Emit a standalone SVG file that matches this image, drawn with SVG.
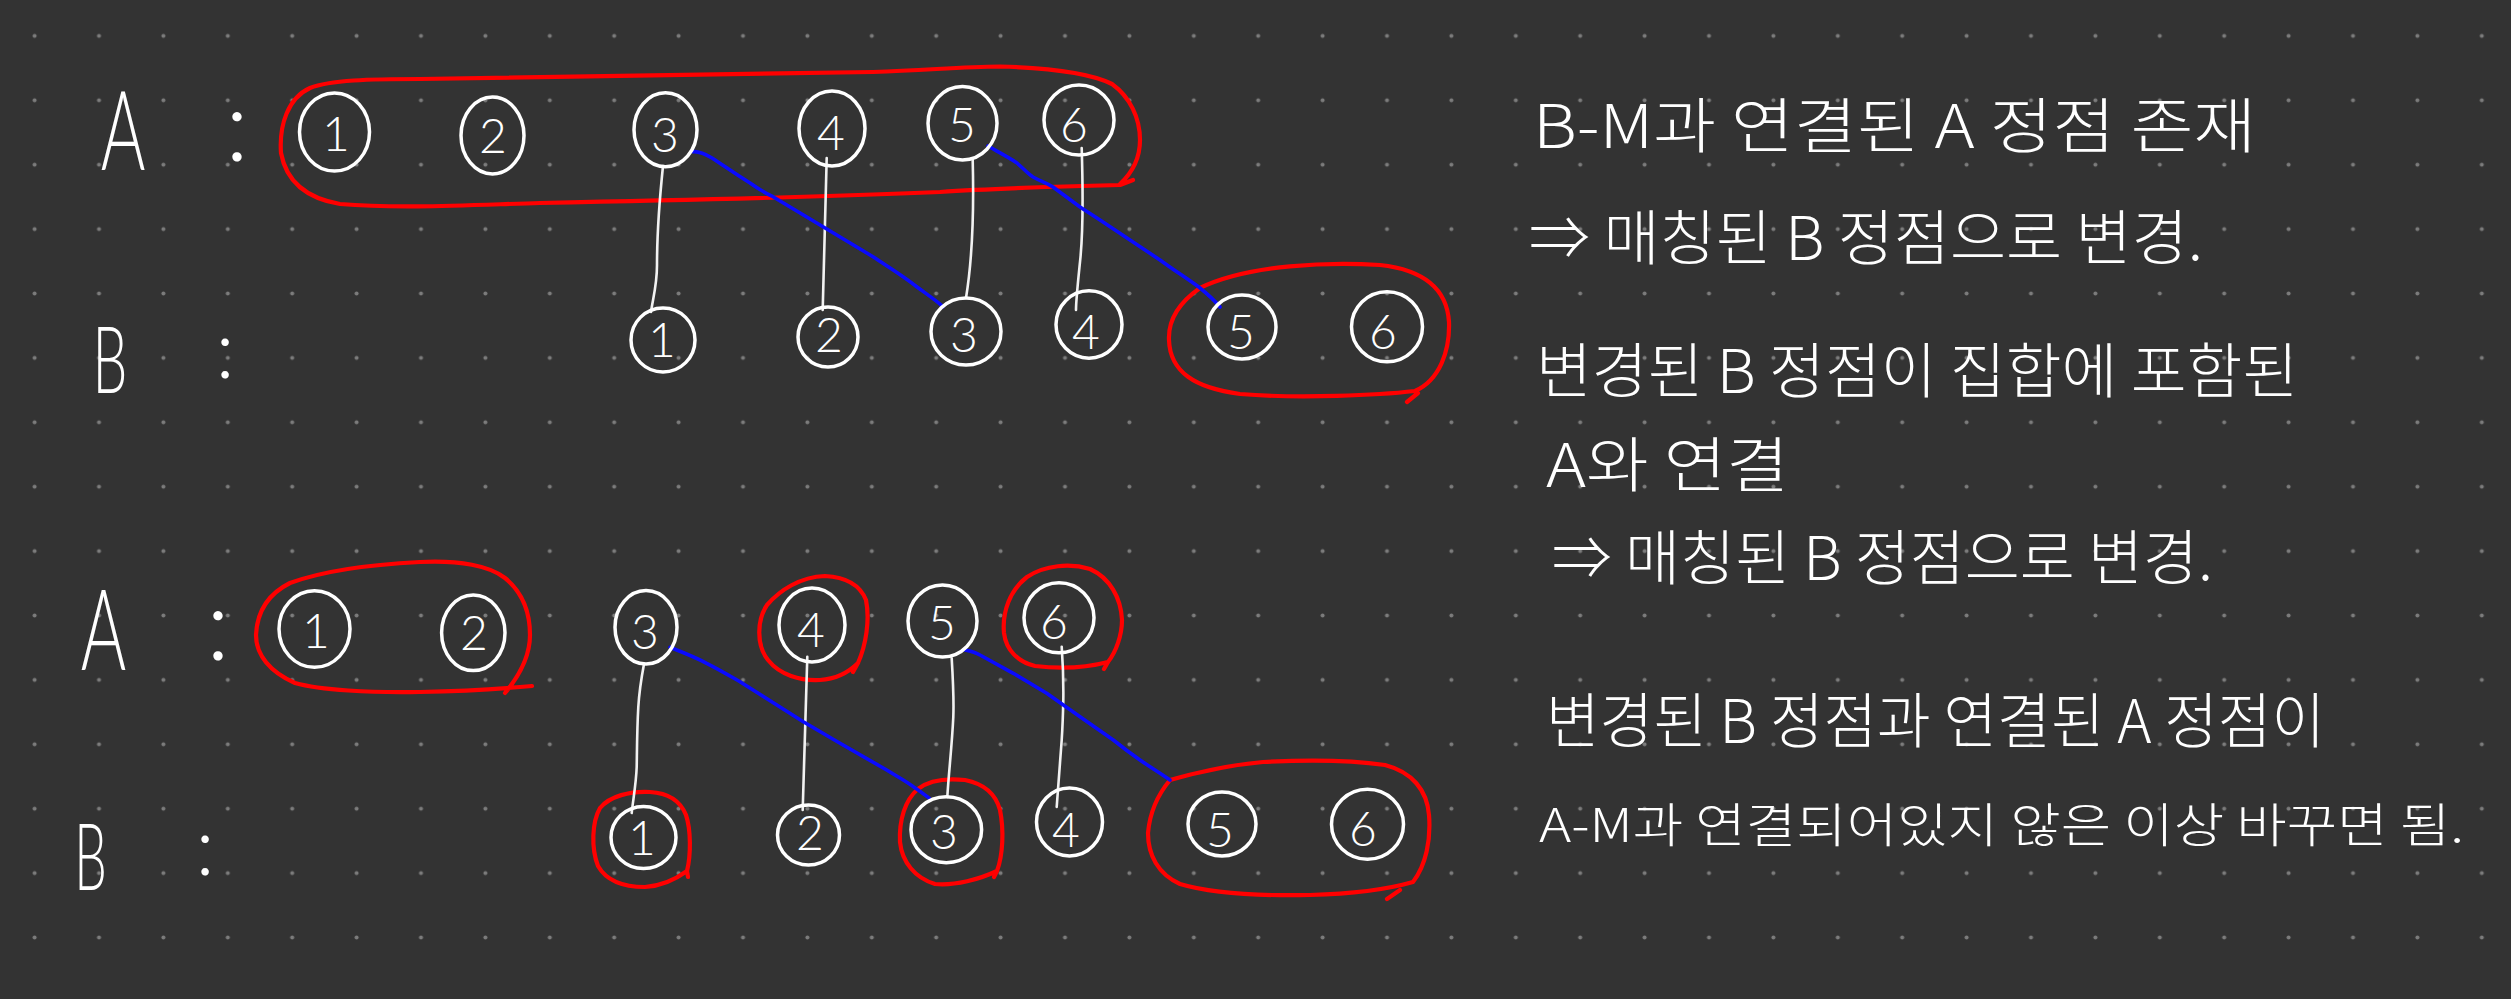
<svg xmlns="http://www.w3.org/2000/svg" width="2511" height="999" viewBox="0 0 2511 999">
<defs>
<pattern id="dotgrid" patternUnits="userSpaceOnUse" x="2.4" y="3.7" width="64.4" height="64.4">
<circle cx="32.2" cy="32.2" r="2" fill="#7c7c7c"/>
</pattern>
<style>
.bg{fill:#333333}
.nc{fill:none;stroke:#ffffff;stroke-width:3.5}
.dg{font-family:Lato,"Liberation Sans",sans-serif;font-weight:300;font-size:48px;fill:#ffffff;text-anchor:middle}
.lb{font-family:Lato,"Liberation Sans",sans-serif;font-weight:300;fill:#ffffff;text-anchor:middle}
.wl{fill:none;stroke:#f2f2f2;stroke-width:2.6;stroke-linecap:round;stroke-linejoin:round}
.bl{fill:none;stroke:#0a0aff;stroke-width:3.6;stroke-linecap:round;stroke-linejoin:round}
.rd{fill:none;stroke:#ff0000;stroke-width:4.2;stroke-linecap:round;stroke-linejoin:round}
.kt{font-family:"Noto Sans CJK KR","Noto Sans",sans-serif;font-weight:300;font-size:60px;fill:#ffffff}
.kt7{font-family:"Noto Sans CJK KR","Noto Sans",sans-serif;font-weight:300;font-size:47px;fill:#ffffff}
</style>
</defs>
<rect class="bg" x="0" y="0" width="2511" height="999"/>
<rect x="0" y="0" width="2511" height="999" fill="url(#dotgrid)"/>

<g id="labels">
<text class="lb" font-size="110" transform="translate(123 170) scale(0.62 1)">A</text>
<text class="lb" font-size="100" x="237" y="161">:</text>
<text class="lb" font-size="92" transform="translate(110 393) scale(0.6 1)">B</text>
<text class="lb" font-size="80" x="225" y="378">:</text>
<text class="lb" font-size="112" transform="translate(103.5 670) scale(0.62 1)">A</text>
<text class="lb" font-size="100" x="218" y="660">:</text>
<text class="lb" font-size="92" transform="translate(90.5 890) scale(0.56 1)">B</text>
<text class="lb" font-size="80" x="205" y="875">:</text>
</g>

<g id="groups">
<path class="rd" d="M1133,180 L1120,185 C1080,186 1000,188 940,192 C870,195 700,200 540,203 C470,205 400,209 340,204 C305,198 286,180 281,153 C279,125 288,98 310,88 C330,80 370,79 420,79 C560,78 700,75 873,72 C930,70 960,67 1000,66.5 C1050,68 1090,73 1112,84 C1130,97 1140,118 1140,140 C1140,158 1133,172 1120,184"/>
<path class="rd" d="M1200,288 C1180,302 1168,320 1169,340 C1170,372 1195,388 1240,394 C1300,399 1380,395 1415,391 C1440,380 1450,350 1449,322 C1447,290 1425,270 1380,265 C1330,262 1250,264 1200,288 M1407,402 L1418,393"/>
<path class="rd" d="M532,686 C510,688 470,691 420,692 C370,693 320,690 295,683 C270,672 256,655 256,635 C257,612 268,594 290,583 C320,572 360,565 420,562 C460,560 490,566 505,578 C522,592 530,612 530,635 C530,656 520,675 505,693"/>
<path class="rd" d="M853,672 L858,663 C866,645 870,620 866,600 C860,585 845,577 825,576 C800,577 780,590 767,605 C757,620 756,645 768,660 C780,675 800,681 820,680 C835,679 848,673 858,663"/>
<path class="rd" d="M1104,669 L1108,662 C1116,652 1122,635 1122,620 C1121,598 1110,578 1090,569 C1070,563 1045,565 1027,577 C1010,590 1002,612 1004,633 C1006,650 1018,662 1035,666 C1060,669 1085,668 1108,662"/>
<path class="rd" d="M688,877 L687,871 C691,855 691,830 686,815 C680,800 668,793 650,792 C630,791 610,796 600,808 C592,822 591,848 598,866 C606,880 622,887 645,887 C662,886 676,879 687,871"/>
<path class="rd" d="M994,877 L997,871 C1003,855 1004,830 1000,810 C996,795 985,784 965,780 C945,778 928,781 918,789 C905,800 899,820 900,842 C902,862 915,878 935,884 C955,886 980,879 997,871"/>
<path class="rd" d="M1170,780 C1160,792 1150,810 1148,833 C1148,855 1158,874 1180,884 C1210,893 1260,896 1310,895 C1350,894 1385,890 1413,882 C1426,865 1431,840 1429,815 C1427,790 1412,772 1385,765 C1350,760 1300,760 1263,762 C1230,765 1195,773 1170,780 M1387,899 L1400,890"/>
</g>

<g id="connectors">
<path class="wl" d="M663,166 C660,195 657,230 657,265 C657,285 653,298 651,312"/>
<path class="wl" d="M826.7,158 L822.7,310"/>
<path class="wl" d="M972.7,160 C974,210 973,255 966,298"/>
<path class="wl" d="M1081.7,148 C1083,190 1083,230 1080.5,257 C1078,282 1076,300 1076,310"/>
<path class="bl" d="M693,151.7 C700,151 707,155 712,158 C730,170 740,177 750,183 C760,190 765,193 773,196.7 L823,226.7 L873,256.7 C890,268 905,277 917,287 C928,295 937,301 943,306.7"/>
<path class="bl" d="M988,146 C998,152 1008,157 1017,163 C1025,170 1028,174 1033,177 C1042,182 1047,183 1053,187 L1080,207 L1100,220 L1160,260 C1175,271 1188,279 1200,288 C1210,296 1215,301 1220,307"/>
<path class="wl" d="M644,664 C641,680 639,695 638.3,707 C637,730 637,750 636.7,767 C636,785 633,800 631.7,813"/>
<path class="wl" d="M807.3,656.7 L802.7,810"/>
<path class="wl" d="M951.7,658.3 C953,680 954,700 953.3,717 C952,745 949,770 947.3,797"/>
<path class="wl" d="M1061.7,646.7 C1063,665 1063.5,685 1063.3,700 C1063,715 1062.5,728 1061.7,740 C1060,765 1058,788 1056.7,807"/>
<path class="bl" d="M670,647.3 C682,652 695,657 706.7,663.3 C720,670 730,676 740,681.7 L803.3,721.7 L840,743.3 L886.7,770 C898,777 906,781 913.3,786.7 C920,791 925,795 929.3,798.3"/>
<path class="bl" d="M965,650 C970,651 975,652 980,655 L1013.3,673.3 L1046.7,693.3 L1080,716.7 L1113.3,740 C1122,747 1130,753 1140,760 C1150,767 1160,773 1170,780"/>
</g>

<g id="top-A1"><ellipse class="nc" cx="334.5" cy="132" rx="35" ry="39"/><text class="dg" x="336" y="151">1</text></g>
<g id="top-A2"><ellipse class="nc" cx="492.5" cy="135.5" rx="31.5" ry="38.5"/><text class="dg" x="493" y="153">2</text></g>
<g id="top-A3"><ellipse class="nc" cx="665.5" cy="129.7" rx="31.5" ry="37"/><text class="dg" x="665" y="152">3</text></g>
<g id="top-A4"><ellipse class="nc" cx="832" cy="128.5" rx="33" ry="37.5"/><text class="dg" x="831" y="150">4</text></g>
<g id="top-A5"><ellipse class="nc" cx="962.5" cy="123.3" rx="34.5" ry="36.7"/><text class="dg" x="962" y="142">5</text></g>
<g id="top-A6"><ellipse class="nc" cx="1079" cy="120" rx="35" ry="35"/><text class="dg" x="1074" y="142">6</text></g>
<g id="top-B1"><ellipse class="nc" cx="663" cy="340" rx="32" ry="32"/><text class="dg" x="662" y="357">1</text></g>
<g id="top-B2"><ellipse class="nc" cx="828" cy="337" rx="30" ry="30"/><text class="dg" x="829" y="352">2</text></g>
<g id="top-B3"><ellipse class="nc" cx="966" cy="331.5" rx="35" ry="33.5"/><text class="dg" x="964" y="352">3</text></g>
<g id="top-B4"><ellipse class="nc" cx="1089" cy="324.5" rx="33" ry="33.7"/><text class="dg" x="1086" y="349">4</text></g>
<g id="top-B5"><ellipse class="nc" cx="1242" cy="327" rx="34" ry="32"/><text class="dg" x="1241" y="349">5</text></g>
<g id="top-B6"><ellipse class="nc" cx="1387" cy="326.7" rx="35.5" ry="35"/><text class="dg" x="1383" y="349">6</text></g>

<g id="bottom-A1"><ellipse class="nc" cx="314.5" cy="629" rx="35.5" ry="38.3"/><text class="dg" x="316" y="648">1</text></g>
<g id="bottom-A2"><ellipse class="nc" cx="473.3" cy="632.8" rx="31.7" ry="37.8"/><text class="dg" x="474" y="650">2</text></g>
<g id="bottom-A3"><ellipse class="nc" cx="646" cy="627.3" rx="31" ry="36.7"/><text class="dg" x="645" y="649">3</text></g>
<g id="bottom-A4"><ellipse class="nc" cx="812" cy="625" rx="33" ry="37"/><text class="dg" x="811" y="647">4</text></g>
<g id="bottom-A5"><ellipse class="nc" cx="942.5" cy="621" rx="34.5" ry="36"/><text class="dg" x="942" y="640">5</text></g>
<g id="bottom-A6"><ellipse class="nc" cx="1059" cy="617.7" rx="35" ry="35"/><text class="dg" x="1054" y="639">6</text></g>
<g id="bottom-B1"><ellipse class="nc" cx="643.5" cy="837.5" rx="32.5" ry="31"/><text class="dg" x="642" y="855">1</text></g>
<g id="bottom-B2"><ellipse class="nc" cx="808.5" cy="835" rx="31" ry="30"/><text class="dg" x="810" y="850">2</text></g>
<g id="bottom-B3"><ellipse class="nc" cx="946.3" cy="829.7" rx="35.3" ry="33" /><text class="dg" x="944" y="849">3</text></g>
<g id="bottom-B4"><ellipse class="nc" cx="1069.5" cy="822" rx="33" ry="34"/><text class="dg" x="1066" y="847">4</text></g>
<g id="bottom-B5"><ellipse class="nc" cx="1222" cy="824" rx="34" ry="32"/><text class="dg" x="1220" y="847">5</text></g>
<g id="bottom-B6"><ellipse class="nc" cx="1367.5" cy="824.3" rx="36" ry="35"/><text class="dg" x="1363" y="846">6</text></g>

<g id="notes">
<text class="kt" x="1533" y="148" textLength="723" lengthAdjust="spacingAndGlyphs">B-M과 연결된 A 정점 존재</text>
<text class="kt" x="1529" y="260" textLength="674" lengthAdjust="spacingAndGlyphs">⇒ 매칭된 B 정점으로 변경.</text>
<text class="kt" x="1536" y="393" textLength="762" lengthAdjust="spacingAndGlyphs">변경된 B 정점이 집합에 포함된</text>
<text class="kt" x="1546" y="487" textLength="243" lengthAdjust="spacingAndGlyphs">A와 연결</text>
<text class="kt" x="1552" y="580" textLength="661" lengthAdjust="spacingAndGlyphs">⇒ 매칭된 B 정점으로 변경.</text>
<text class="kt" x="1546" y="743" textLength="779" lengthAdjust="spacingAndGlyphs">변경된 B 정점과 연결된 A 정점이</text>
<text class="kt7" x="1539" y="842" textLength="925" lengthAdjust="spacingAndGlyphs">A-M과 연결되어있지 않은 이상 바꾸면 됨.</text>
</g>
</svg>
